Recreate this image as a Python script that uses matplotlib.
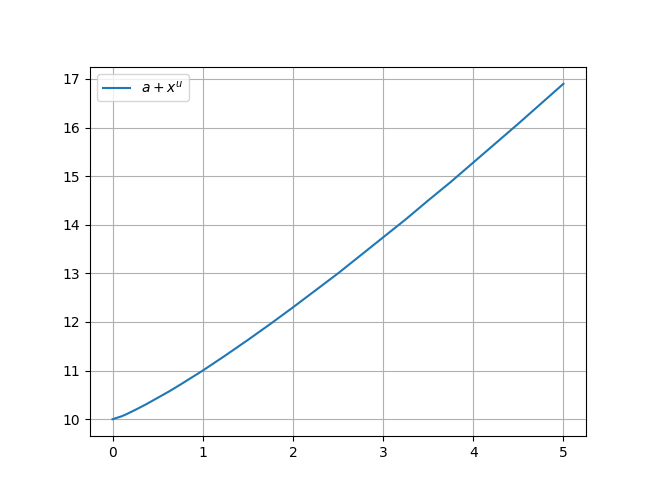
import matplotlib
matplotlib.use('Agg')
import matplotlib.pyplot as plt

# values
x = [0, 0.05, 0.1, 0.15, 0.25, 0.375, 0.5, 0.625, 0.75, 1, 1.25, 1.5, 1.75,
     2, 2.25, 2.5, 2.75, 3, 3.25, 3.5, 3.75, 4, 4.25, 4.5, 4.75, 5]
y = [10.00, 10.03, 10.06, 10.10, 10.19, 10.31, 10.44, 10.57, 10.71, 11.00,
     11.31, 11.63, 11.96, 12.30, 12.65, 13.00, 13.37, 13.74, 14.11, 14.50,
     14.88, 15.28, 15.68, 16.08, 16.49, 16.90]
label = r'$a + x^u$'

fig, ax = plt.subplots(figsize=(6.6, 4.99), dpi=100)
fig.subplots_adjust(left=90/660, right=586/660, top=1 - 67/499, bottom=1 - 436/499)
ax.plot(x, y, label=label)
ax.grid(True)
ax.legend(loc='upper left')

fig.savefig('out.png')
